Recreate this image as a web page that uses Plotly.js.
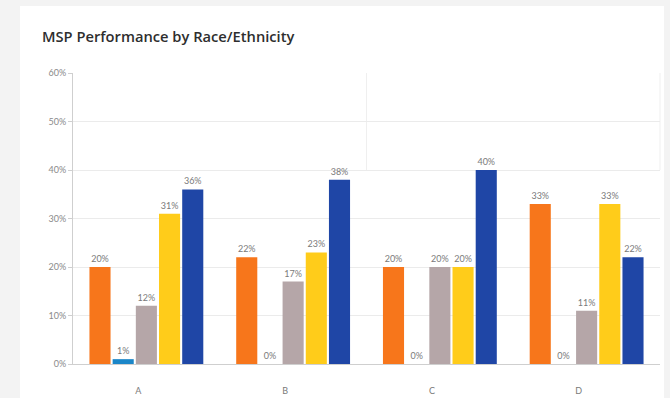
<!DOCTYPE html>
<html>
<head>
<meta charset="utf-8">
<script src="https://cdn.plot.ly/plotly-3.0.1.min.js"></script>
<style>
  html, body { margin: 0; padding: 0; background: #f3f3f3; }
  #card { position: absolute; left: 20px; top: 6px; width: 644px; height: 400px; background: #ffffff; }
  #chart { position: absolute; left: 0; top: 0; width: 670px; height: 398px; }
</style>
</head>
<body>
<div id="card"></div>
<div id="chart"></div>
<script>
// Categories along the x axis
const categories = ['A', 'B', 'C', 'D'];

// Percent values for each of the five groups, per category
const seriesOrange = [20, 22, 20, 33];
const seriesLightBlue = [1, 0, 0, 0];
const seriesMauve = [12, 17, 20, 11];
const seriesYellow = [31, 23, 20, 33];
const seriesNavy = [36, 38, 40, 22];

// Y axis tick values and labels
const yTickVals = [0, 10, 20, 30, 40, 50, 60];
const yTickText = ['0%', '10%', '20%', '30%', '40%', '50%', '60%'];

const series = [
  { values: seriesOrange, color: '#f7761b' },
  { values: seriesLightBlue, color: '#1b86c8' },
  { values: seriesMauve, color: '#b5a6a8' },
  { values: seriesYellow, color: '#ffcc1a' },
  { values: seriesNavy, color: '#1f46a6' }
];

const font = "Lato, 'Open Sans', sans-serif";

const traces = series.map(s => ({
  type: 'bar',
  x: categories,
  y: s.values,
  marker: { color: s.color },
  text: s.values.map(v => v + '%'),
  textposition: 'outside',
  cliponaxis: false,
  textfont: { family: font, size: 9, color: '#7a7a7a' },
  hoverinfo: 'none'
}));

const layout = {
  width: 670,
  height: 398,
  paper_bgcolor: 'rgba(0,0,0,0)',
  plot_bgcolor: 'rgba(0,0,0,0)',
  margin: { l: 73, r: 10, t: 73, b: 34 },
  showlegend: false,
  barmode: 'group',
  bargap: 0.21,
  bargroupgap: 0.09,
  title: {
    text: 'MSP Performance by Race/Ethnicity',
    font: { family: "'Open Sans', sans-serif", size: 14.7, weight: 600, color: '#2e2e2e' },
    x: 42 / 670, xanchor: 'left',
    y: 1 - 37 / 398, yanchor: 'middle'
  },
  xaxis: {
    type: 'category',
    showgrid: false,
    showline: true,
    linecolor: '#cfcfcf',
    linewidth: 1,
    ticks: '',
    ticklabelshift: -8,
    ticklabelstandoff: 18,
    tickfont: { family: font, size: 9, color: '#7a7a7a' },
    fixedrange: true
  },
  yaxis: {
    range: [0, 60],
    tickvals: yTickVals,
    ticktext: yTickText,
    showgrid: true,
    gridcolor: '#ebebeb',
    zeroline: false,
    showline: true,
    linecolor: '#cfcfcf',
    ticks: 'outside',
    ticklen: 4,
    tickcolor: '#cfcfcf',
    tickfont: { family: font, size: 9, color: '#8a8a8a' },
    fixedrange: true
  },
  shapes: [
    { type: 'line', xref: 'x', yref: 'y', x0: 1.5, x1: 1.5, y0: 40, y1: 60,
      line: { color: '#efefef', width: 1 }, layer: 'below' },
    { type: 'line', xref: 'paper', yref: 'y', x0: 1, x1: 1, y0: 40, y1: 60,
      line: { color: '#efefef', width: 1 }, layer: 'below' }
  ]
};

Plotly.newPlot('chart', traces, layout, { displayModeBar: false, staticPlot: true });
</script>
</body>
</html>
